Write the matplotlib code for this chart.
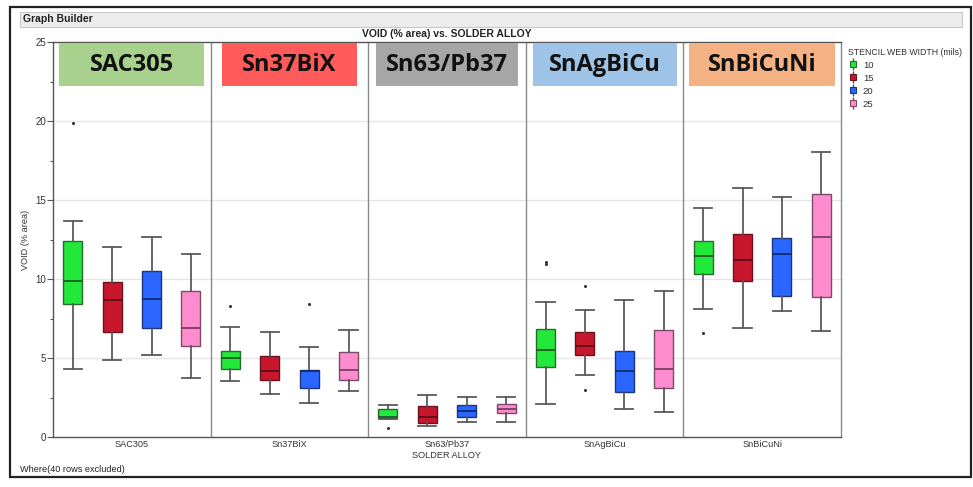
import matplotlib
matplotlib.use("Agg")
import matplotlib.pyplot as plt
from matplotlib.patches import Rectangle
from matplotlib.lines import Line2D
from matplotlib.legend_handler import HandlerTuple

# ---------------- data ----------------
categories = ["SAC305", "Sn37BiX", "Sn63/Pb37", "SnAgBiCu", "SnBiCuNi"]
web_widths = ["10", "15", "20", "25"]

whislo = {
    "10": [4.28, 3.52, 1.15, 2.09, 8.08],
    "15": [4.90, 2.70, 0.72, 3.90, 6.88],
    "20": [5.17, 2.17, 0.93, 1.79, 7.97],
    "25": [3.71, 2.89, 0.93, 1.60, 6.71],
}
q1 = {
    "10": [8.44, 4.30, 1.22, 4.43, 10.32],
    "15": [6.67, 3.59, 0.91, 5.17, 9.89],
    "20": [6.88, 3.12, 1.25, 2.85, 8.90],
    "25": [5.78, 3.63, 1.54, 3.12, 8.86],
}
med = {
    "10": [9.87, 4.98, 1.29, 5.48, 11.46],
    "15": [8.69, 4.18, 1.27, 5.76, 11.18],
    "20": [8.73, 4.20, 1.65, 4.20, 11.56],
    "25": [6.92, 4.22, 1.79, 4.28, 12.64],
}
q3 = {
    "10": [12.38, 5.44, 1.75, 6.81, 12.42],
    "15": [9.81, 5.15, 1.98, 6.67, 12.85],
    "20": [10.53, 4.24, 2.00, 5.44, 12.57],
    "25": [9.24, 5.36, 2.09, 6.77, 15.40],
}
whishi = {
    "10": [13.69, 6.98, 2.03, 8.52, 14.49],
    "15": [12.00, 6.62, 2.68, 8.06, 15.78],
    "20": [12.68, 5.70, 2.53, 8.69, 15.21],
    "25": [11.58, 6.79, 2.53, 9.22, 18.02],
}
fliers = {
    "10": [[19.9], [8.29], [0.59], [11.08, 10.95], [6.60]],
    "15": [[], [], [], [9.58, 2.95], []],
    "20": [[], [8.40], [], [], []],
    "25": [[], [], [], [], []],
}

header_colors = ["#a9d18e", "#ff5b5b", "#a6a6a6", "#9dc3e6", "#f4b183"]

# ---------------- style ----------------
box_face = {"10": "#22e83a", "15": "#c8172c", "20": "#2a66ff", "25": "#ff8ccf"}
box_edge = {"10": "#2a6a30", "15": "#6a1020", "20": "#1a3580", "25": "#7a4a66"}
med_col = {"10": "#1e5a26", "15": "#5a0c18", "20": "#122c6a", "25": "#7a3e60"}
offsets = [-0.375, -0.125, 0.125, 0.375]
header_half = [0.46, 0.426, 0.45, 0.457, 0.463]

W, H = 973, 487
fig = plt.figure(figsize=(W / 100, H / 100), dpi=100)
fig.patch.set_facecolor("white")

narrow = ["Liberation Sans Narrow", "Liberation Sans", "DejaVu Sans"]
regular = ["Liberation Sans", "DejaVu Sans"]

def fx(px):
    return px / W

def fy(py):
    return 1 - py / H

# outer frame
fig.patches.append(Rectangle((fx(10), fy(477)), fx(971) - fx(10), fy(7) - fy(477),
                             transform=fig.transFigure, fill=False, edgecolor="#222222",
                             linewidth=1.6, zorder=0))
# Graph Builder strip
fig.patches.append(Rectangle((fx(20), fy(27)), fx(962) - fx(20), fy(12) - fy(27),
                             transform=fig.transFigure, facecolor="#ececec", edgecolor="#c8c8c8",
                             linewidth=0.8, zorder=0))
fig.text(fx(23), fy(19.5), "Graph Builder", fontsize=7.5, fontweight="bold",
         family=regular, va="center", ha="left", color="#222222")

ax = fig.add_axes([fx(53), fy(437), fx(841) - fx(53), fy(42) - fy(437)])
ax.set_xlim(-0.5, len(categories) - 0.5)
ax.set_ylim(0, 25)

# grid
for gy in [5, 10, 15, 20]:
    ax.axhline(gy, color="#e6e6e6", linewidth=1.0, zorder=0)
for k in range(1, len(categories)):
    ax.axvline(k - 0.5, color="#8a8a8a", linewidth=1.0, zorder=1)

for gi, w in enumerate(web_widths):
    stats = []
    for ci in range(len(categories)):
        stats.append(dict(whislo=whislo[w][ci], q1=q1[w][ci], med=med[w][ci],
                          q3=q3[w][ci], whishi=whishi[w][ci], fliers=fliers[w][ci]))
    pos = [ci + offsets[gi] for ci in range(len(categories))]
    ax.bxp(stats, positions=pos, widths=0.12, capwidths=0.115, patch_artist=True,
           showfliers=True, manage_ticks=False,
           boxprops=dict(facecolor=box_face[w], edgecolor=box_edge[w], linewidth=1.0),
           medianprops=dict(color=med_col[w], linewidth=1.3),
           whiskerprops=dict(color="#5a5a5a", linewidth=1.3),
           capprops=dict(color="#5a5a5a", linewidth=1.3),
           flierprops=dict(marker="o", markersize=1.2, markerfacecolor="#333333",
                           markeredgecolor="#333333", linestyle="none"),
           zorder=3)

# header labels
for ci, cat in enumerate(categories):
    hw = header_half[ci]
    ax.add_patch(Rectangle((ci - hw, 22.22), 2 * hw, 24.92 - 22.22,
                           facecolor=header_colors[ci], edgecolor="none", zorder=4))
    ax.text(ci, 23.57, cat, ha="center", va="center", fontsize=17, fontweight="bold",
            family=["Open Sans", "DejaVu Sans"], color="#111111", zorder=5)

# axes styling
ax.set_yticks([0, 5, 10, 15, 20, 25])
ax.set_yticks([2.5, 7.5, 12.5, 17.5, 22.5], minor=True)
ax.set_xticks(range(len(categories)))
ax.set_xticklabels(categories, family=narrow, fontsize=6.6, color="#333333")
ax.tick_params(axis="x", length=0, pad=2)
ax.tick_params(axis="y", which="major", length=4, width=0.8, color="#555555",
               labelsize=7, labelcolor="#333333", pad=1)
ax.tick_params(axis="y", which="minor", length=2, width=0.8, color="#555555")
for lab in ax.get_yticklabels():
    lab.set_family(narrow)
for s in ["left", "bottom"]:
    ax.spines[s].set_color("#555555")
    ax.spines[s].set_linewidth(1.0)
ax.spines["top"].set_color("#555555")
ax.spines["top"].set_linewidth(1.0)
ax.spines["right"].set_color("#8a8a8a")
ax.spines["right"].set_linewidth(1.0)

fig.text(fx(447), fy(34), "VOID (% area) vs. SOLDER ALLOY", ha="center", va="center",
         fontsize=7.5, fontweight="bold", family=regular, color="#222222")
fig.text(fx(25), fy(240), "VOID (% area)", rotation=90, ha="center", va="center",
         fontsize=6.6, family=narrow, color="#333333")
fig.text(fx(447), fy(455), "SOLDER ALLOY", ha="center", va="center",
         fontsize=6.6, family=narrow, color="#333333")
fig.text(fx(20), fy(470), "Where(40 rows excluded)", ha="left", va="center",
         fontsize=6.6, family=narrow, color="#222222")

# legend
handles = []
for w in web_widths:
    h1 = Line2D([], [], marker="|", markersize=8, color="#555555", linestyle="none",
                markeredgewidth=1.0)
    h2 = Line2D([], [], marker="s", markersize=5, markerfacecolor=box_face[w],
                markeredgecolor=box_edge[w], linestyle="none", markeredgewidth=0.8)
    handles.append((h1, h2))
leg = fig.legend(handles, web_widths, handler_map={tuple: HandlerTuple(ndivide=1)},
                 loc="upper left", bbox_to_anchor=(fx(844), fy(44)), frameon=False,
                 title="STENCIL WEB WIDTH (mils)", title_fontsize=6.3, fontsize=6.8,
                 alignment="left", handlelength=1.0, handletextpad=0.6,
                 labelspacing=0.42, borderaxespad=0)
leg.get_title().set_family(narrow)
leg.get_title().set_color("#333333")
for t in leg.get_texts():
    t.set_family(regular)
    t.set_color("#333333")

fig.savefig("out.png", dpi=100)
